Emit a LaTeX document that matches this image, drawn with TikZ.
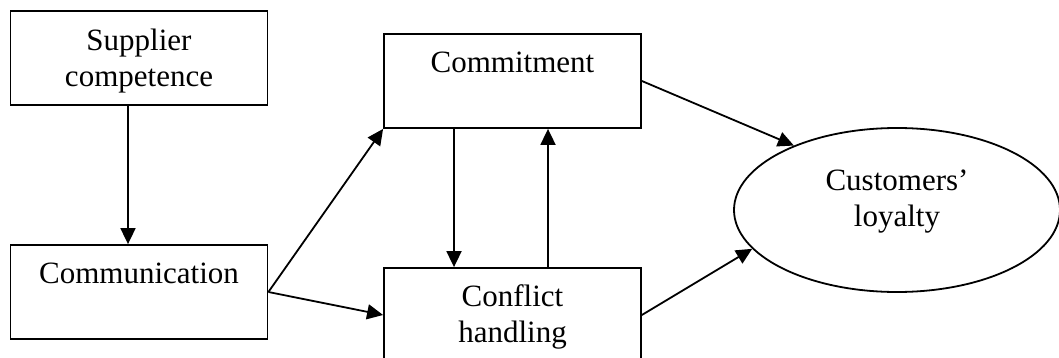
\documentclass[tikz,border=0pt]{standalone}
\usepackage{fontspec}
\setmainfont{Liberation Serif}
\usetikzlibrary{arrows.meta,shapes.geometric}
\begin{document}
\begin{tikzpicture}[x=0.5pt,y=-0.5pt,
  box/.style={draw,line width=0.9pt,minimum width=128.5pt,minimum height=47pt,inner sep=0pt},
  txt/.style={font=\fontsize{15.5}{18}\selectfont,align=center,inner sep=0pt,anchor=base},
  arr/.style={line width=0.9pt,-{Triangle[length=8pt,width=7.5pt]}}]
\useasboundingbox (0,0) rectangle (1059,358);
\node[box] (sup) at (139,58) {};
\node[box] (com) at (139,292) {};
\node[box] (cmt) at (512.5,81) {};
\node[box] (con) at (512.5,315) {};
\node[draw,ellipse,line width=0.9pt,minimum width=163pt,minimum height=82pt,inner sep=0pt] (ell) at (897,210) {};
\node[txt] (tsup) at (139,87) {Supplier\\competence};
\node[txt] (tcom) at (139,283) {Communication};
\node[txt] (tcmt) at (512.5,73) {Commitment};
\node[txt] (tcon) at (512.5,342) {Conflict\\handling};
\node[txt] (tell) at (897,226) {Customers’\\loyalty};
\coordinate (xa) at (128,0);
\coordinate (xb) at (454,0);
\coordinate (xc) at (548,0);
\draw[arr] (sup.south -| xa) -- (com.north -| xa);
\draw[arr] (cmt.south -| xb) -- (con.north -| xb);
\draw[arr] (con.north -| xc) -- (cmt.south -| xc);
\draw[arr] (com.east) -- (cmt.south west);
\draw[arr] (com.east) -- (con.west);
\draw[arr] (cmt.east) -- (ell.148);
\draw[arr] (con.east) -- (ell.195);
\end{tikzpicture}
\end{document}
